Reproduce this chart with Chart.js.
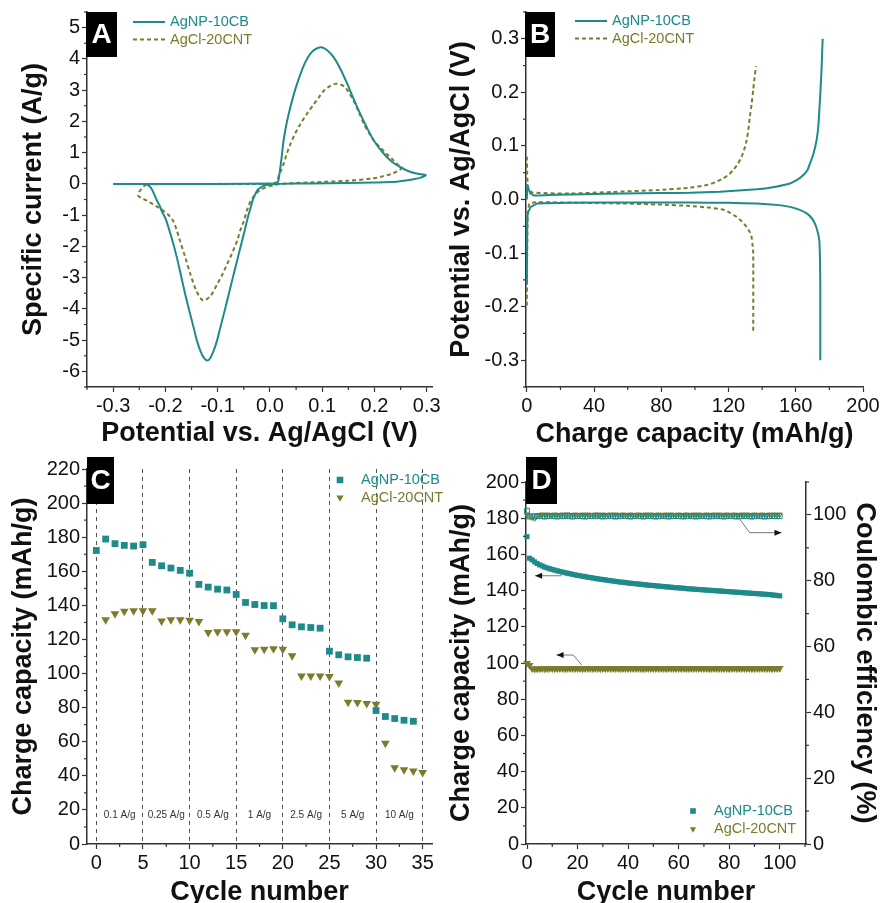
<!DOCTYPE html>
<html>
<head>
<meta charset="utf-8">
<script src="https://cdn.jsdelivr.net/npm/chart.js@4.4.1/dist/chart.umd.min.js"></script>
<style>
  body { margin: 0; background: #fff; }
  #wrap { position: relative; width: 880px; height: 903px; overflow: hidden; }
  #wrap canvas { position: absolute; left: 0; top: 0; }
</style>
</head>
<body>
<div id="wrap">
  <canvas id="chartA" width="880" height="903"></canvas>
  <canvas id="chartB" width="880" height="903"></canvas>
  <canvas id="chartC" width="880" height="903"></canvas>
  <canvas id="chartD" width="880" height="903"></canvas>
</div>
<script>
// ---- data ----
const seriesNames = ['AgNP-10CB', 'AgCl-20CNT'];

// A: cyclic voltammetry (potential V, current A/g), loop order
const cvTealV = [-0.30, -0.2, -0.1, 0.0, 0.014, 0.018, 0.022, 0.026, 0.032, 0.039, 0.048, 0.058, 0.067, 0.077, 0.087, 0.098, 0.110, 0.122, 0.135, 0.148, 0.160, 0.173, 0.186, 0.199, 0.215, 0.231, 0.247, 0.263, 0.280, 0.298,
  0.288, 0.275, 0.26, 0.243, 0.2, 0.148, 0.08, 0.02, 0.005, -0.006, -0.013, -0.018, -0.024, -0.028, -0.033, -0.037, -0.042, -0.047, -0.055, -0.063, -0.071, -0.079, -0.087, -0.095, -0.101, -0.108, -0.114, -0.120,
  -0.127, -0.133, -0.140, -0.146, -0.154, -0.162, -0.170, -0.178, -0.186, -0.194, -0.200, -0.207, -0.211, -0.216, -0.221, -0.226, -0.231, -0.235, -0.24];
const cvTealI = [0.0, 0.0, 0.0, 0.01, 0.03, 0.3, 0.8, 1.38, 1.95, 2.45, 3.0, 3.5, 3.87, 4.16, 4.31, 4.37, 4.27, 4.05, 3.67, 3.2, 2.72, 2.23, 1.78, 1.38, 1.02, 0.74, 0.56, 0.42, 0.33, 0.28,
  0.2, 0.15, 0.11, 0.07, 0.045, 0.03, 0.015, 0.0, -0.015, -0.03, -0.07, -0.12, -0.2, -0.33, -0.52, -0.76, -1.05, -1.4, -1.93, -2.47, -3.0, -3.54, -4.08, -4.6, -5.0, -5.35, -5.57, -5.65,
  -5.55, -5.35, -5.0, -4.6, -4.08, -3.54, -2.95, -2.36, -1.85, -1.4, -1.1, -0.87, -0.7, -0.54, -0.35, -0.17, -0.07, -0.02, 0.0];
const cvOliveV = [-0.235, -0.1, 0.0, 0.012, 0.018, 0.026, 0.032, 0.039, 0.048, 0.058, 0.071, 0.084, 0.094, 0.103, 0.114, 0.125, 0.135, 0.144, 0.152, 0.160, 0.170, 0.180, 0.190, 0.199, 0.212, 0.224, 0.236, 0.247, 0.253,
  0.243, 0.231, 0.215, 0.199, 0.148, 0.084, 0.02, 0.007, -0.006, -0.016, -0.025, -0.031, -0.037, -0.044, -0.050, -0.057, -0.063, -0.072, -0.082, -0.091, -0.101, -0.114, -0.128,
  -0.140, -0.152, -0.162, -0.172, -0.179, -0.185, -0.191, -0.197, -0.205, -0.213, -0.225, -0.235, -0.245, -0.252, -0.25, -0.245, -0.24, -0.235];
const cvOliveI = [-0.01, 0.0, 0.0, 0.05, 0.3, 0.63, 0.95, 1.27, 1.6, 1.91, 2.25, 2.55, 2.78, 2.98, 3.12, 3.2, 3.18, 3.09, 2.9, 2.66, 2.3, 1.91, 1.62, 1.38, 1.15, 0.95, 0.76, 0.58, 0.52,
  0.4, 0.31, 0.24, 0.18, 0.1, 0.05, 0.0, -0.05, -0.1, -0.18, -0.28, -0.4, -0.54, -0.85, -1.19, -1.5, -1.83, -2.2, -2.57, -2.9, -3.21, -3.59, -3.73,
  -3.45, -2.9, -2.35, -1.83, -1.45, -1.19, -1.05, -0.95, -0.85, -0.76, -0.64, -0.54, -0.46, -0.38, -0.25, -0.15, -0.06, -0.01];

// B: galvanostatic charge / discharge (capacity mAh/g, potential V)
const gcTealChgQ = [0, 0.3, 1.0, 2.0, 3.8, 8, 17.7, 35, 57, 80, 97, 115, 136.7, 148, 156.5, 161, 164.5, 167, 168.5, 170.5, 172.4, 173.5, 174.4, 175.3, 176];
const gcTealChgV = [0.0, 0.027, 0.02, 0.012, 0.008, 0.0075, 0.009, 0.01, 0.011, 0.012, 0.0125, 0.0145, 0.019, 0.024, 0.030, 0.037, 0.0456, 0.055, 0.0675, 0.085, 0.111, 0.14, 0.186, 0.24, 0.3];
const gcTealDisQ = [0, 0.2, 0.5, 2.4, 6.3, 26, 60, 97, 120, 136.7, 150, 156.5, 162, 166.5, 169.5, 171.4, 173, 174, 174.4, 174.6, 174.6];
const gcTealDisV = [-0.158, -0.06, -0.026, -0.0138, -0.0075, -0.006, -0.0055, -0.0056, -0.0062, -0.0075, -0.0105, -0.0138, -0.019, -0.026, -0.035, -0.045, -0.06, -0.076, -0.11, -0.158, -0.3];
const gcOliveChgQ = [0, 0.2, 0.6, 3, 26, 50, 77, 97, 107, 112, 116.9, 120, 122.8, 125.5, 127.8, 129.5, 130.8, 131.8, 132.7, 133.8, 134.7, 135.5, 136.3];
const gcOliveChgV = [0.08, 0.05, 0.024, 0.013, 0.011, 0.014, 0.0175, 0.022, 0.027, 0.032, 0.0394, 0.046, 0.055, 0.066, 0.08, 0.095, 0.111, 0.13, 0.155, 0.18, 0.205, 0.228, 0.249];
const gcOliveDisQ = [0, 0.2, 0.5, 1.5, 6, 30, 57, 80, 97, 108, 117, 121, 124.8, 128, 130.8, 132.5, 133.7, 134.3, 134.7, 134.7];
const gcOliveDisV = [-0.198, -0.1, -0.03, -0.0075, -0.005, -0.006, -0.0075, -0.0095, -0.012, -0.015, -0.019, -0.025, -0.0325, -0.041, -0.051, -0.06, -0.07, -0.085, -0.10, -0.25];

// C: rate capability
const rateCyclesTeal = [0, 1, 2, 3, 4, 5, 6, 7, 8, 9, 10, 11, 12, 13, 14, 15, 16, 17, 18, 19, 20, 21, 22, 23, 24, 25, 26, 27, 28, 29, 30, 31, 32, 33, 34];
const rateTeal = [172.2, 178.9, 176.2, 175.2, 174.8, 175.6, 165.2, 163.2, 161.9, 160.5, 158.9, 152.3, 150.7, 149.5, 149.0, 146.4, 141.7, 140.5, 139.9, 139.8,
  132.1, 128.6, 127.4, 127.0, 126.6, 113.1, 111.0, 109.8, 109.4, 109.0, 78.3, 74.8, 73.6, 72.6, 72.0];
const rateCyclesOlive = [1, 2, 3, 4, 5, 6, 7, 8, 9, 10, 11, 12, 13, 14, 15, 16, 17, 18, 19, 20, 21, 22, 23, 24, 25, 26, 27, 28, 29, 30, 31, 32, 33, 34, 35];
const rateOlive = [131.5, 135.1, 136.6, 136.8, 136.8, 136.8, 130.9, 131.5, 131.5, 131.3, 130.6, 124.1, 124.5, 124.5, 124.5, 122.5, 113.9, 114.3, 114.5, 114.3,
  110.4, 98.5, 98.5, 98.5, 98.3, 94.5, 83.2, 83.0, 82.4, 82.0, 59.1, 44.8, 43.5, 42.9, 41.9];
const rateLabels = ['0.1 A/g', '0.25 A/g', '0.5 A/g', '1 A/g', '2.5 A/g', '5 A/g', '10 A/g'];
const rateBounds = [0, 5, 10, 15, 20, 25, 30, 35];

// D: long cycling, capacity (left) and coulombic efficiency (right)
const lifeCycles = Array.from({ length: 101 }, (_, i) => i);
const lifeTealCap = [
  169.8, 157.9, 157.0, 155.9, 155.0, 154.2, 153.6, 153.0, 152.5, 152.1,
  151.7, 151.3, 150.9, 150.6, 150.2, 149.9, 149.6, 149.3, 149.0, 148.7,
  148.4, 148.2, 147.9, 147.7, 147.4, 147.2, 147.0, 146.7, 146.5, 146.3,
  146.1, 145.9, 145.7, 145.5, 145.3, 145.1, 144.9, 144.7, 144.6, 144.4,
  144.2, 144.1, 143.9, 143.8, 143.6, 143.5, 143.3, 143.2, 143.0, 142.9,
  142.8, 142.6, 142.5, 142.4, 142.2, 142.1, 142.0, 141.9, 141.7, 141.6,
  141.5, 141.4, 141.3, 141.1, 141.0, 140.9, 140.8, 140.7, 140.6, 140.5,
  140.4, 140.3, 140.2, 140.1, 140.0, 139.9, 139.8, 139.7, 139.6, 139.5,
  139.4, 139.3, 139.2, 139.1, 139.0, 138.9, 138.8, 138.7, 138.6, 138.5,
  138.4, 138.3, 138.2, 138.1, 138.0, 137.9, 137.8, 137.6, 137.5, 137.3,
  137.1];
const lifeOliveCap = [
  99.9, 98.8, 97.0, 96.7, 96.8, 96.8, 96.9, 96.8, 96.8, 96.9,
  96.9, 96.8, 96.9, 96.9, 96.9, 96.8, 96.9, 96.9, 97.0, 96.9,
  96.9, 96.9, 96.8, 96.9, 96.9, 97.0, 96.9, 96.9, 96.9, 96.8,
  96.9, 96.9, 96.9, 97.0, 96.9, 96.9, 96.9, 96.8, 96.9, 96.9,
  96.9, 97.0, 96.9, 96.9, 96.9, 96.9, 96.8, 96.9, 96.9, 96.9,
  97.0, 96.9, 96.9, 96.9, 96.9, 96.8, 96.9, 96.9, 97.0, 96.9,
  96.9, 96.9, 96.9, 96.8, 96.9, 96.9, 96.9, 97.0, 96.9, 96.9,
  96.9, 96.9, 96.8, 96.9, 96.9, 97.0, 96.9, 96.9, 96.9, 96.9,
  96.8, 96.9, 96.9, 96.9, 97.0, 96.9, 96.9, 96.9, 96.9, 96.8,
  96.9, 96.9, 97.0, 96.9, 96.9, 96.9, 96.9, 96.8, 96.9, 97.0,
  97.1];
const lifeTealCE = [
  101.3, 99.5, 99.6, 99.5, 99.6, 99.7, 99.6, 99.5, 99.6, 99.7,
  99.6, 99.6, 99.5, 99.7, 99.6, 99.6, 99.8, 99.6, 99.5, 99.6,
  99.7, 99.6, 99.6, 99.5, 99.6, 99.7, 99.6, 99.6, 99.8, 99.6,
  99.5, 99.6, 99.6, 99.7, 99.6, 99.5, 99.6, 99.6, 99.7, 99.6,
  99.6, 99.5, 99.6, 99.7, 99.6, 99.6, 99.5, 99.6, 99.7, 99.6,
  99.6, 99.5, 99.6, 99.6, 99.7, 99.6, 99.5, 99.6, 99.6, 99.7,
  99.6, 99.6, 99.5, 99.6, 99.7, 99.6, 99.6, 99.5, 99.6, 99.7,
  99.6, 99.6, 99.5, 99.6, 99.6, 99.7, 99.6, 99.6, 99.5, 99.6,
  99.7, 99.6, 99.6, 99.5, 99.6, 99.6, 99.7, 99.6, 99.6, 99.5,
  99.6, 99.7, 99.6, 99.6, 99.5, 99.6, 99.6, 99.7, 99.6, 99.6,
  99.6];
const lifeOliveCE = [
  100.0, 99.6, 99.2, 98.9, 99.7, 100.0, 100.1, 100.0, 100.1, 100.0,
  100.0, 100.1, 100.0, 100.0, 100.1, 100.0, 100.1, 100.0, 100.0, 100.1,
  100.0, 100.0, 100.1, 100.0, 100.1, 100.0, 100.0, 100.1, 100.0, 100.0,
  100.1, 100.0, 100.0, 100.1, 100.0, 100.1, 100.0, 100.0, 100.1, 100.0,
  100.0, 100.1, 100.0, 100.0, 100.1, 100.0, 100.0, 100.1, 100.0, 100.1,
  100.0, 100.0, 100.1, 100.0, 100.0, 100.1, 100.0, 100.1, 100.0, 100.0,
  100.1, 100.0, 100.0, 100.1, 100.0, 100.0, 100.1, 100.0, 100.1, 100.0,
  100.0, 100.1, 100.0, 100.0, 100.1, 100.0, 100.1, 100.0, 100.0, 100.1,
  100.0, 100.0, 100.1, 100.0, 100.0, 100.1, 100.0, 100.1, 100.0, 100.0,
  100.1, 100.0, 100.0, 100.1, 100.0, 100.0, 100.1, 100.0, 100.1, 100.0,
  100.1];

// ---- styles ----
const teal = '#1e8a8a';
const olive = '#7b7b2c';
const axisColor = '#333';
const textColor = '#111';
Chart.defaults.font.family = '"Liberation Sans", Arial, sans-serif';
Chart.defaults.color = textColor;

function pts(xs, ys) {
  return xs.map((x, i) => ({ x: x, y: ys[i] }));
}

// linear axis with a fixed box size so the plot areas line up like the figure
function axis(o) {
  return {
    type: 'linear',
    position: o.position,
    min: o.min,
    max: o.max,
    afterBuildTicks: s => {
      // major ticks only on whole steps, not on the axis ends
      const t = [];
      for (let k = Math.ceil(o.min / o.step - 1e-9); k * o.step <= o.max + 1e-9; k++) {
        t.push({ value: Math.round(k * o.step * 1000) / 1000 });
      }
      s.ticks = t;
    },
    afterFit: s => {
      if (s.isHorizontal()) s.height = o.size; else s.width = o.size;
      s.paddingLeft = s.paddingRight = s.paddingTop = s.paddingBottom = 0;
    },
    border: { color: axisColor, width: 1.5, dash: o.dash || [] },
    grid: {
      drawOnChartArea: !!o.gridLines,
      color: '#555',
      lineWidth: 1,
      tickLength: 5,
      tickColor: axisColor,
      tickWidth: 1.2,
      tickBorderDash: [],
    },
    ticks: {
      autoSkip: false,
      maxRotation: 0,
      padding: 2,
      color: textColor,
      font: { size: 20 },
      callback: o.fmt || (v => String(v)),
    },
    title: {
      display: true,
      text: o.title,
      color: textColor,
      font: { size: 27, weight: 'bold' },
      padding: o.titlePad,
    },
  };
}

// draws minor ticks, panel letters, legends, text notes and arrows
const decor = {
  id: 'decor',
  afterDraw(chart, args, opts) {
    const ctx = chart.ctx;
    ctx.save();

    (opts.minor || []).forEach(m => {
      const s = chart.scales[m.axis];
      const majors = s.ticks.map(t => t.value);
      ctx.strokeStyle = axisColor;
      ctx.lineWidth = 1.2;
      for (let k = Math.ceil(s.min / m.step - 1e-9); k * m.step <= s.max + 1e-9; k++) {
        const v = k * m.step;
        if (majors.some(t => Math.abs(t - v) < m.step / 100)) continue;
        const p = s.getPixelForValue(v);
        ctx.beginPath();
        if (s.position === 'bottom') { ctx.moveTo(p, s.top); ctx.lineTo(p, s.top + 3); }
        else if (s.position === 'left') { ctx.moveTo(s.right, p); ctx.lineTo(s.right - 3, p); }
        else { ctx.moveTo(s.left, p); ctx.lineTo(s.left + 3, p); }
        ctx.stroke();
      }
    });

    (opts.notes || []).forEach(n => {
      ctx.fillStyle = '#333';
      ctx.font = '10px "Liberation Sans", Arial, sans-serif';
      ctx.textAlign = 'center';
      ctx.textBaseline = 'middle';
      ctx.fillText(n.text, chart.scales.x.getPixelForValue(n.x), chart.scales.y.getPixelForValue(n.y));
    });

    (opts.arrows || []).forEach(a => {
      const xs = chart.scales.x, ys = chart.scales[a.axis];
      const p = a.path.map(q => [xs.getPixelForValue(q[0]), ys.getPixelForValue(q[1])]);
      ctx.strokeStyle = '#777';
      ctx.lineWidth = 1;
      ctx.beginPath();
      p.forEach((q, i) => (i ? ctx.lineTo(q[0], q[1]) : ctx.moveTo(q[0], q[1])));
      ctx.stroke();
      const [x1, y1] = p[p.length - 2], [x2, y2] = p[p.length - 1];
      const ang = Math.atan2(y2 - y1, x2 - x1);
      const c = Math.cos(ang), s = Math.sin(ang);
      ctx.fillStyle = '#111';
      ctx.beginPath();
      ctx.moveTo(x2, y2);
      ctx.lineTo(x2 - 7 * c + 3 * s, y2 - 7 * s - 3 * c);
      ctx.lineTo(x2 - 7 * c - 3 * s, y2 - 7 * s + 3 * c);
      ctx.closePath();
      ctx.fill();
    });

    const lg = opts.legend;
    if (lg) {
      lg.items.forEach((it, i) => {
        const ds = chart.data.datasets[it.ds];
        const y = lg.y + i * lg.gap;
        const col = ds.borderColor;
        if (lg.kind === 'line') {
          ctx.strokeStyle = col;
          ctx.lineWidth = 2;
          ctx.setLineDash(ds.borderDash || []);
          ctx.beginPath();
          ctx.moveTo(lg.x, y);
          ctx.lineTo(lg.x + 32, y);
          ctx.stroke();
          ctx.setLineDash([]);
        } else {
          ctx.fillStyle = col;
          const r = lg.r;
          ctx.beginPath();
          if (ds.pointStyle === 'rect') {
            ctx.rect(lg.x - r, y - r, 2 * r, 2 * r);
          } else {
            ctx.moveTo(lg.x - r * 1.1, y - r * 0.7);
            ctx.lineTo(lg.x + r * 1.1, y - r * 0.7);
            ctx.lineTo(lg.x, y + r * 1.2);
            ctx.closePath();
          }
          ctx.fill();
        }
        ctx.fillStyle = col;
        ctx.font = '14.5px "Liberation Sans", Arial, sans-serif';
        ctx.textAlign = 'left';
        ctx.textBaseline = 'middle';
        ctx.fillText(it.text, lg.tx, y);
      });
    }

    const b = opts.badge;
    if (b) {
      ctx.fillStyle = '#000';
      ctx.fillRect(b.x, b.y, b.w, b.h);
      ctx.fillStyle = '#fff';
      ctx.font = 'bold 28px "Liberation Sans", Arial, sans-serif';
      ctx.textAlign = 'center';
      ctx.textBaseline = 'middle';
      ctx.fillText(b.text, b.x + b.w / 2, b.y + b.h / 2 + 1);
    }
    ctx.restore();
  },
};

const base = {
  responsive: false,
  animation: false,
  events: [],
};

// ---- A ----
new Chart(document.getElementById('chartA'), {
  type: 'scatter',
  data: {
    datasets: [
      { label: seriesNames[0], data: pts(cvTealV, cvTealI), showLine: true, pointRadius: 0, borderColor: teal, borderWidth: 2, tension: 0.3, clip: false },
      { label: seriesNames[1], data: pts(cvOliveV, cvOliveI), showLine: true, pointRadius: 0, borderColor: olive, borderWidth: 2, borderDash: [4, 3], tension: 0.3, clip: false },
    ],
  },
  options: {
    ...base,
    layout: { padding: { left: 0, top: 12, right: 448, bottom: 453 } },
    scales: {
      x: axis({ position: 'bottom', min: -0.35, max: 0.31, step: 0.1, size: 63, fmt: v => v.toFixed(1), title: 'Potential vs. Ag/AgCl (V)', titlePad: { top: 0, bottom: 0 } }),
      y: axis({ position: 'left', min: -6.5, max: 5.5, step: 1, size: 87, title: 'Specific current (A/g)', titlePad: { top: 17, bottom: 0 } }),
    },
    plugins: {
      legend: { display: false },
      tooltip: { enabled: false },
      decor: {
        minor: [{ axis: 'x', step: 0.05 }, { axis: 'y', step: 0.5 }],
        legend: { kind: 'line', x: 133, tx: 170, y: 22, gap: 17.5, items: [{ ds: 0, text: seriesNames[0] }, { ds: 1, text: seriesNames[1] }] },
        badge: { text: 'A', x: 86, y: 12, w: 31, h: 45 },
      },
    },
  },
  plugins: [decor],
});

// ---- B ----
new Chart(document.getElementById('chartB'), {
  type: 'scatter',
  data: {
    datasets: [
      { label: seriesNames[0], data: pts(gcTealChgQ, gcTealChgV), showLine: true, pointRadius: 0, borderColor: teal, borderWidth: 2, tension: 0.1, clip: false },
      { label: seriesNames[1], data: pts(gcOliveChgQ, gcOliveChgV), showLine: true, pointRadius: 0, borderColor: olive, borderWidth: 2, borderDash: [4, 3], tension: 0.1, clip: false },
      { label: seriesNames[0], data: pts(gcTealDisQ, gcTealDisV), showLine: true, pointRadius: 0, borderColor: teal, borderWidth: 2, tension: 0.1, clip: false },
      { label: seriesNames[1], data: pts(gcOliveDisQ, gcOliveDisV), showLine: true, pointRadius: 0, borderColor: olive, borderWidth: 2, borderDash: [4, 3], tension: 0.1, clip: false },
    ],
  },
  options: {
    ...base,
    layout: { padding: { left: 440, top: 12, right: 17, bottom: 453 } },
    scales: {
      x: axis({ position: 'bottom', min: -0.5, max: 200, step: 40, size: 63, title: 'Charge capacity (mAh/g)', titlePad: { top: 0, bottom: -1 } }),
      y: axis({ position: 'left', min: -0.35, max: 0.35, step: 0.1, size: 86, fmt: v => v.toFixed(1), title: 'Potential vs. Ag/AgCl (V)', titlePad: { top: 5.5, bottom: 0 } }),
    },
    plugins: {
      legend: { display: false },
      tooltip: { enabled: false },
      decor: {
        minor: [{ axis: 'x', step: 20 }, { axis: 'y', step: 0.05 }],
        legend: { kind: 'line', x: 575, tx: 612, y: 21, gap: 17.5, items: [{ ds: 0, text: seriesNames[0] }, { ds: 1, text: seriesNames[1] }] },
        badge: { text: 'B', x: 525, y: 12, w: 30, h: 45 },
      },
    },
  },
  plugins: [decor],
});

// ---- C ----
new Chart(document.getElementById('chartC'), {
  type: 'scatter',
  data: {
    datasets: [
      { label: seriesNames[0], data: pts(rateCyclesTeal, rateTeal), pointStyle: 'rect', pointRadius: 4.8, backgroundColor: teal, borderColor: teal, borderWidth: 0, clip: false },
      { label: seriesNames[1], data: pts(rateCyclesOlive, rateOlive), pointStyle: 'triangle', pointRotation: 180, pointRadius: 5, backgroundColor: olive, borderColor: olive, borderWidth: 0, clip: false },
    ],
  },
  options: {
    ...base,
    layout: { padding: { left: 0, top: 469, right: 448, bottom: 0 } },
    scales: {
      x: axis({ position: 'bottom', min: -1, max: 36, step: 5, size: 59, gridLines: true, dash: [4, 4], title: 'Cycle number', titlePad: { top: 0, bottom: -6 } }),
      y: axis({ position: 'left', min: 0, max: 220, step: 20, size: 87, title: 'Charge capacity (mAh/g)', titlePad: { top: 7, bottom: 0 } }),
    },
    plugins: {
      legend: { display: false },
      tooltip: { enabled: false },
      decor: {
        minor: [{ axis: 'x', step: 2.5 }, { axis: 'y', step: 10 }],
        notes: rateLabels.map((t, i) => ({ text: t, x: (rateBounds[i] + rateBounds[i + 1]) / 2, y: 17 })),
        legend: { kind: 'point', r: 3.3, x: 340, tx: 361, y: 480, gap: 17.7, items: [{ ds: 0, text: seriesNames[0] }, { ds: 1, text: seriesNames[1] }] },
        badge: { text: 'C', x: 87, y: 457, w: 27, h: 47 },
      },
    },
  },
  plugins: [decor],
});

// ---- D ----
new Chart(document.getElementById('chartD'), {
  type: 'scatter',
  data: {
    datasets: [
      { label: seriesNames[0], data: pts(lifeCycles, lifeTealCap), yAxisID: 'y', pointStyle: 'rect', pointRadius: 3.6, backgroundColor: teal, borderColor: teal, borderWidth: 0, clip: false },
      { label: seriesNames[1], data: pts(lifeCycles, lifeOliveCap), yAxisID: 'y', pointStyle: 'triangle', pointRotation: 180, pointRadius: 4.5, backgroundColor: olive, borderColor: olive, borderWidth: 0, clip: false },
      { label: seriesNames[0] + ' CE', data: pts(lifeCycles, lifeTealCE), yAxisID: 'y1', pointStyle: 'rect', pointRadius: 3.4, backgroundColor: 'rgba(255,255,255,0)', borderColor: teal, borderWidth: 1, clip: false },
      { label: seriesNames[1] + ' CE', data: pts(lifeCycles, lifeOliveCE), yAxisID: 'y1', pointStyle: 'triangle', pointRotation: 180, pointRadius: 3, backgroundColor: 'rgba(255,255,255,0)', borderColor: olive, borderWidth: 1, clip: false },
    ],
  },
  options: {
    ...base,
    layout: { padding: { left: 440, top: 482, right: 0, bottom: 0 } },
    scales: {
      x: axis({ position: 'bottom', min: -0.4, max: 110.4, step: 20, size: 59, title: 'Cycle number', titlePad: { top: 0, bottom: -6 } }),
      y: axis({ position: 'left', min: 0, max: 200, step: 20, size: 86, title: 'Charge capacity (mAh/g)', titlePad: { top: 5.5, bottom: 0 } }),
      y1: axis({ position: 'right', min: 0, max: 110, step: 20, size: 74, title: 'Coulombic efficiency (%)', titlePad: { top: -1, bottom: 0 } }),
    },
    plugins: {
      legend: { display: false },
      tooltip: { enabled: false },
      decor: {
        minor: [{ axis: 'x', step: 10 }, { axis: 'y', step: 10 }, { axis: 'y1', step: 10 }],
        arrows: [
          { axis: 'y1', path: [[84.2, 98.7], [88.1, 94.6], [100.7, 94.6]] },
          { axis: 'y', path: [[13.7, 148.2], [3.2, 148.2]] },
          { axis: 'y', path: [[21.6, 98.9], [18.3, 104.4], [11.7, 104.4]] },
        ],
        legend: { kind: 'point', r: 2.8, x: 693, tx: 714, y: 811, gap: 18.3, items: [{ ds: 0, text: seriesNames[0] }, { ds: 1, text: seriesNames[1] }] },
        badge: { text: 'D', x: 526, y: 457, w: 31, h: 47 },
      },
    },
  },
  plugins: [decor],
});
</script>
</body>
</html>
